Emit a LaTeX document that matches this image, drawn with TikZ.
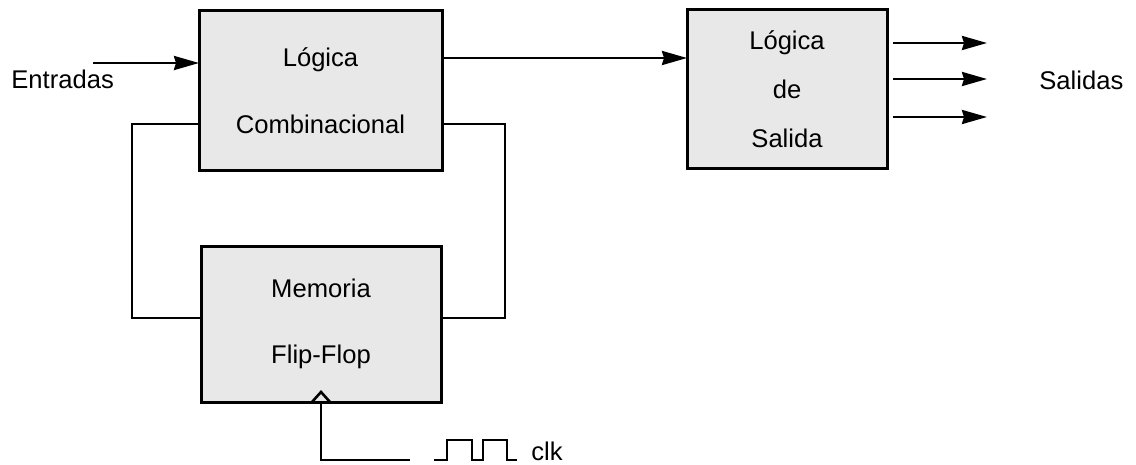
\documentclass[tikz,border=0pt]{standalone}
\usepackage{fontspec}
\setmainfont{Liberation Sans}
\usetikzlibrary{arrows.meta}

\tikzset{
    caja/.style={draw, line width=1.5pt, fill=gray!18, inner sep=0pt, outer sep=0pt, align=center},
    linea/.style={line width=1.3pt},
    flecha/.style={linea, -{Stealth[length=12.5pt, width=7pt, inset=1pt]}},
    texto/.style={inner sep=0pt, font=\fontsize{12.8}{15}\selectfont}
}

\begin{document}
\begin{tikzpicture}[x=0.5pt, y=-0.5pt]
            \useasboundingbox ( 0, 0 ) rectangle ( 1136, 465 );

            % bloques
            \node [caja, minimum width=121.5pt, minimum height=80pt, font=\fontsize{12.8}{33.5}\selectfont]
                (comb) at ( 320.5, 91 ) {Lógica\\Combinacional};
            \node [caja, minimum width=100pt, minimum height=79.5pt, font=\fontsize{12.8}{24.5}\selectfont]
                (salida) at ( 787, 89 ) {Lógica\\de\\Salida};
            \node [caja, minimum width=120pt, minimum height=78pt, font=\fontsize{12.8}{33}\selectfont]
                (mem) at ( 321, 324 ) {Memoria\\Flip-Flop};

            % entradas
            \node [texto, anchor=west] (entradas) at ( 11, 79 ) {Entradas};
            \draw [flecha] ( 93, 63 ) -- ( comb.west |- 0, 63 );

            % hacia la lógica de salida
            \draw [flecha] ( comb.east |- 0, 58 ) -- ( salida.west |- 0, 58 );

            % realimentación
            \draw [linea] ( comb.west |- 0, 124 ) -| ( 132, 318 ) -- ( mem.west |- 0, 318 );
            \draw [linea] ( comb.east |- 0, 124 ) -| ( 505, 318 ) -- ( mem.east |- 0, 318 );

            % salidas
            \foreach \y in {43, 79, 117}
                \draw [flecha] ( 893, \y ) -- ( 987, \y );
            \node [texto, anchor=west] (salidas) at ( 1039, 80 ) {Salidas};

            % reloj
            \draw [linea] ([xshift=-4.5pt]mem.south) -- ([yshift=5pt]mem.south) -- ([xshift=4.5pt]mem.south);
            \draw [linea] (mem.south) -- ++( 0, 58 ) -- ++( 89, 0 );
            \draw [linea] ( 434, 460 ) -- ++( 13, 0 ) -- ++( 0, -20 ) -- ++( 25, 0 ) -- ++( 0, 20 )
                -- ++( 11, 0 ) -- ++( 0, -20 ) -- ++( 24, 0 ) -- ++( 0, 20 ) -- ++( 10, 0 );
            \node [texto, anchor=base west] (clk) at ( 531, 460 ) {clk};
        \end{tikzpicture}
\end{document}
